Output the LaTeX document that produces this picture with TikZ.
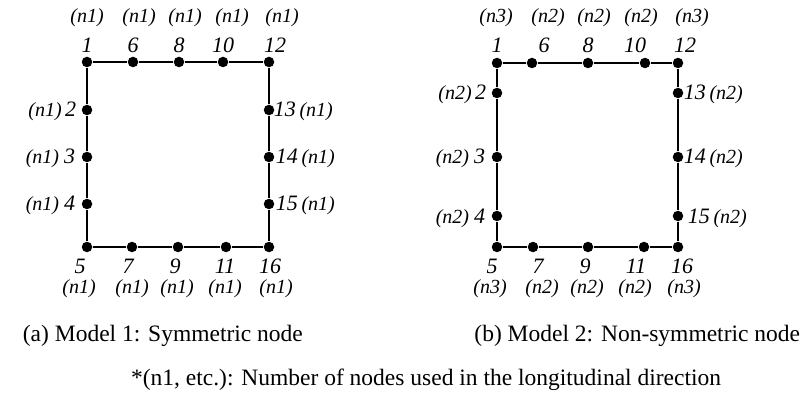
\documentclass[tikz,border=0pt]{standalone}
\usepackage{fontspec}
\setmainfont{Liberation Serif}
\usetikzlibrary{positioning}

\newcommand{\numfont}{\fontsize{22}{22}\selectfont\itshape}
\newcommand{\cntfont}{\fontsize{20}{20}\selectfont\itshape}
\newcommand{\capfont}{\fontsize{23.5}{23.5}\selectfont}

\tikzset{
  dot/.style={circle,fill=black,inner sep=0pt,minimum size=10.5pt},
  num/.style={font=\numfont,inner sep=0pt,anchor=base},
  cnt/.style={font=\cntfont,inner sep=0pt,anchor=base},
  side/.style={inner sep=0pt},
  caption/.style={font=\capfont,inner sep=0pt},
}

\begin{document}
\begin{tikzpicture}[x=1pt,y=-1pt,line width=1.8pt]
\useasboundingbox (0,0) rectangle (803,398);

% model 1
\node[dot] (a1) at (87,62) {};
\node[dot] (a6) at (133,62) {};
\node[dot] (a8) at (179,62) {};
\node[dot] (a10) at (223,62) {};
\node[dot] (a12) at (269,62) {};
\node[dot] (a2) at (87,110) {};
\node[dot] (a3) at (87,157) {};
\node[dot] (a4) at (87,204) {};
\node[dot] (a13) at (269,110) {};
\node[dot] (a14) at (269,157) {};
\node[dot] (a15) at (269,204) {};
\node[dot] (a5) at (87,247) {};
\node[dot] (a7) at (132,247) {};
\node[dot] (a9) at (178,247) {};
\node[dot] (a11) at (226,247) {};
\node[dot] (a16) at (269,247) {};

\draw (a1) -- (a6) -- (a8) -- (a10) -- (a12) -- (a13) -- (a14) -- (a15) -- (a16)
  -- (a11) -- (a9) -- (a7) -- (a5) -- (a4) -- (a3) -- (a2) -- (a1);

\node[num] (ta1) at (87,53) {1};
\node[num] (ta6) at (133,53) {6};
\node[num] (ta8) at (179,53) {8};
\node[num] (ta10) at (223,53) {10};
\node[num] (ta12) at (275,53) {12};
\node[cnt] (ca1) at (87,23) {(n1)};
\node[cnt] (ca6) at (139,23) {(n1)};
\node[cnt] (ca8) at (185,23) {(n1)};
\node[cnt] (ca10) at (232,23) {(n1)};
\node[cnt] (ca12) at (282,23) {(n1)};

\node[side,anchor=base east] (ta2) at (77,117) {\cntfont(n1)\,\numfont 2};
\node[side,anchor=base east] (ta3) at (76,164) {\cntfont(n1) \numfont 3};
\node[side,anchor=base east] (ta4) at (76,211) {\cntfont(n1) \numfont 4};
\node[side,anchor=base west] (ta13) at (273,117) {\numfont 13\,\cntfont(n1)};
\node[side,anchor=base west] (ta14) at (275,164) {\numfont 14\,\cntfont(n1)};
\node[side,anchor=base west] (ta15) at (275,211) {\numfont 15\,\cntfont(n1)};

\node[num] (ta5) at (80,273) {5};
\node[num] (ta7) at (128,273) {7};
\node[num] (ta9) at (175,273) {9};
\node[num] (ta11) at (225,273) {11};
\node[num] (ta16) at (270,273) {16};
\node[cnt] (ca5) at (79,293) {(n1)};
\node[cnt] (ca7) at (132,293) {(n1)};
\node[cnt] (ca9) at (177,293) {(n1)};
\node[cnt] (ca11) at (225,293) {(n1)};
\node[cnt] (ca16) at (276,293) {(n1)};

% model 2
\node[dot] (b1) at (497,63) {};
\node[dot] (b6) at (532,63) {};
\node[dot] (b8) at (588,63) {};
\node[dot] (b10) at (645,63) {};
\node[dot] (b12) at (678,63) {};
\node[dot] (b2) at (497,93) {};
\node[dot] (b3) at (497,157) {};
\node[dot] (b4) at (497,216) {};
\node[dot] (b13) at (678,93) {};
\node[dot] (b14) at (678,157) {};
\node[dot] (b15) at (678,216) {};
\node[dot] (b5) at (497,247) {};
\node[dot] (b7) at (533,247) {};
\node[dot] (b9) at (588,247) {};
\node[dot] (b11) at (644,247) {};
\node[dot] (b16) at (678,247) {};

\draw (b1) -- (b6) -- (b8) -- (b10) -- (b12) -- (b13) -- (b14) -- (b15) -- (b16)
  -- (b11) -- (b9) -- (b7) -- (b5) -- (b4) -- (b3) -- (b2) -- (b1);

\node[num] (tb1) at (497,53) {1};
\node[num] (tb6) at (544,53) {6};
\node[num] (tb8) at (588,53) {8};
\node[num] (tb10) at (635,53) {10};
\node[num] (tb12) at (685,53) {12};
\node[cnt] (cb1) at (496,23) {(n3)};
\node[cnt] (cb6) at (548,23) {(n2)};
\node[cnt] (cb8) at (594,23) {(n2)};
\node[cnt] (cb10) at (641,23) {(n2)};
\node[cnt] (cb12) at (692,23) {(n3)};

\node[side,anchor=base east] (tb2) at (487,100) {\cntfont(n2)\,\numfont 2};
\node[side,anchor=base east] (tb3) at (486,164) {\cntfont(n2) \numfont 3};
\node[side,anchor=base east] (tb4) at (486,223) {\cntfont(n2) \numfont 4};
\node[side,anchor=base west] (tb13) at (683,100) {\numfont 13\,\cntfont(n2)};
\node[side,anchor=base west] (tb14) at (683,164) {\numfont 14\,\cntfont(n2)};
\node[side,anchor=base west] (tb15) at (687,223) {\numfont 15\,\cntfont(n2)};

\node[num] (tb5) at (492,273) {5};
\node[num] (tb7) at (538,273) {7};
\node[num] (tb9) at (585,273) {9};
\node[num] (tb11) at (636,273) {11};
\node[num] (tb16) at (682,273) {16};
\node[cnt] (cb5) at (490,293) {(n3)};
\node[cnt] (cb7) at (542,293) {(n2)};
\node[cnt] (cb9) at (587,293) {(n2)};
\node[cnt] (cb11) at (635,293) {(n2)};
\node[cnt] (cb16) at (684,293) {(n3)};

% captions
\node[caption,anchor=base west] (capa) at (22,341) {(a) Model 1: Symmetric node};
\node[caption,anchor=base east] (capb) at (801,341) {(b) Model 2: Non-symmetric node};
\node[caption,anchor=base east] (note) at (722,385) {*(n1, etc.): Number of nodes used in the longitudinal direction};

\end{tikzpicture}
\end{document}
